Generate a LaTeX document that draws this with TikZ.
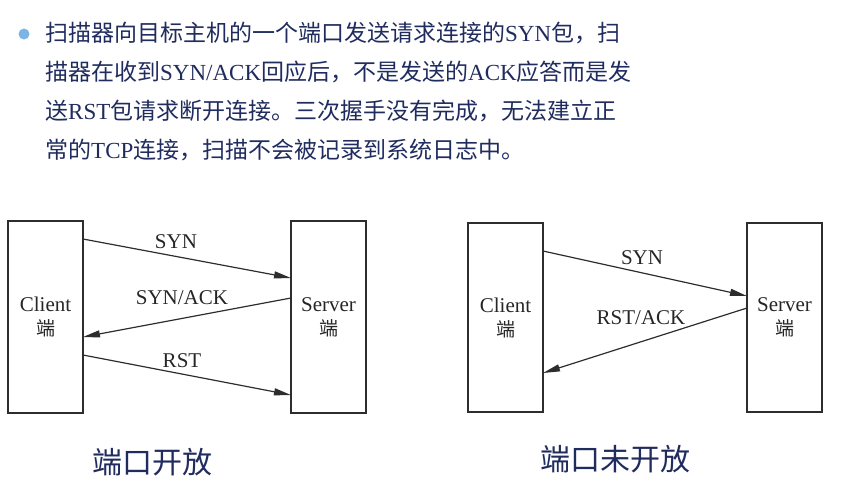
\documentclass[tikz,border=0pt]{standalone}
\usepackage{fontspec}
\setmainfont{Liberation Serif}
\newfontfamily\cjk{Noto Sans CJK SC}
\usepackage{xcolor}
\usetikzlibrary{arrows.meta}
\definecolor{textblue}{RGB}{32,44,94}
\definecolor{dotblue}{RGB}{125,180,230}
\definecolor{linegray}{RGB}{45,45,45}
\newcommand{\lat}[1]{{\rmfamily #1}}

\tikzset{
  hostbox/.style={draw=linegray, line width=1.2pt, minimum width=75pt,
    align=center, inner sep=0pt, text=black!85,
    font=\fontsize{21}{24}\selectfont},
  msg/.style={draw=linegray, line width=1.2pt, -{Triangle[length=17pt,width=7pt]}},
  msglabel/.style={font=\fontsize{21}{22}\selectfont, text=black!85, inner sep=0pt},
  caption/.style={font=\cjk\fontsize{30}{34}\selectfont, text=textblue, inner sep=0pt}
}

\begin{document}
\begin{tikzpicture}[x=1pt,y=-1pt]
\useasboundingbox (0,0) rectangle (853,501);

% bullet text
\fill[dotblue] (24,34) circle (5.5);
\node[anchor=base west, align=left, inner sep=0pt, text=textblue,
  font=\cjk\fontsize{23}{39}\selectfont] (para) at (45,158)
  {扫描器向目标主机的一个端口发送请求连接的\lat{SYN}包，扫\\
   描器在收到\lat{SYN/ACK}回应后，不是发送的\lat{ACK}应答而是发\\
   送\lat{RST}包请求断开连接。三次握手没有完成，无法建立正\\
   常的\lat{TCP}连接，扫描不会被记录到系统日志中。};

% port open
\node[hostbox, minimum height=192pt] (cliA) at (45.5,317) {Client\\{\cjk\fontsize{19}{24}\selectfont 端}};
\node[hostbox, minimum height=192pt] (srvA) at (328.5,317) {Server\\{\cjk\fontsize{19}{24}\selectfont 端}};

\coordinate (synA1) at (83,239);  \coordinate (synA2) at (291,278);
\coordinate (ackA1) at (291,298); \coordinate (ackA2) at (83,337);
\coordinate (rstA1) at (83,355);  \coordinate (rstA2) at (291,395);

\draw[msg] (synA1) -- (synA2);
\draw[msg] (ackA1) -- (ackA2);
\draw[msg] (rstA1) -- (rstA2);

\node[msglabel] (synA) at (176,242) {SYN};
\node[msglabel] (ackA) at (182,298) {SYN/ACK};
\node[msglabel] (rstA) at (182,361) {RST};

\node[caption] (capA) at (152,462) {端口开放};

% port closed
\node[hostbox, minimum height=189pt] (cliB) at (505.5,317.5) {Client\\{\cjk\fontsize{19}{24}\selectfont 端}};
\node[hostbox, minimum height=189pt] (srvB) at (784.5,317.5) {Server\\{\cjk\fontsize{19}{24}\selectfont 端}};

\coordinate (synB1) at (543,251); \coordinate (synB2) at (747,296);
\coordinate (rstB1) at (747,308); \coordinate (rstB2) at (543,373);

\draw[msg] (synB1) -- (synB2);
\draw[msg] (rstB1) -- (rstB2);

\node[msglabel] (synB) at (642,258) {SYN};
\node[msglabel] (rstB) at (641,318) {RST/ACK};

\node[caption] (capB) at (615,459) {端口未开放};
\end{tikzpicture}
\end{document}
